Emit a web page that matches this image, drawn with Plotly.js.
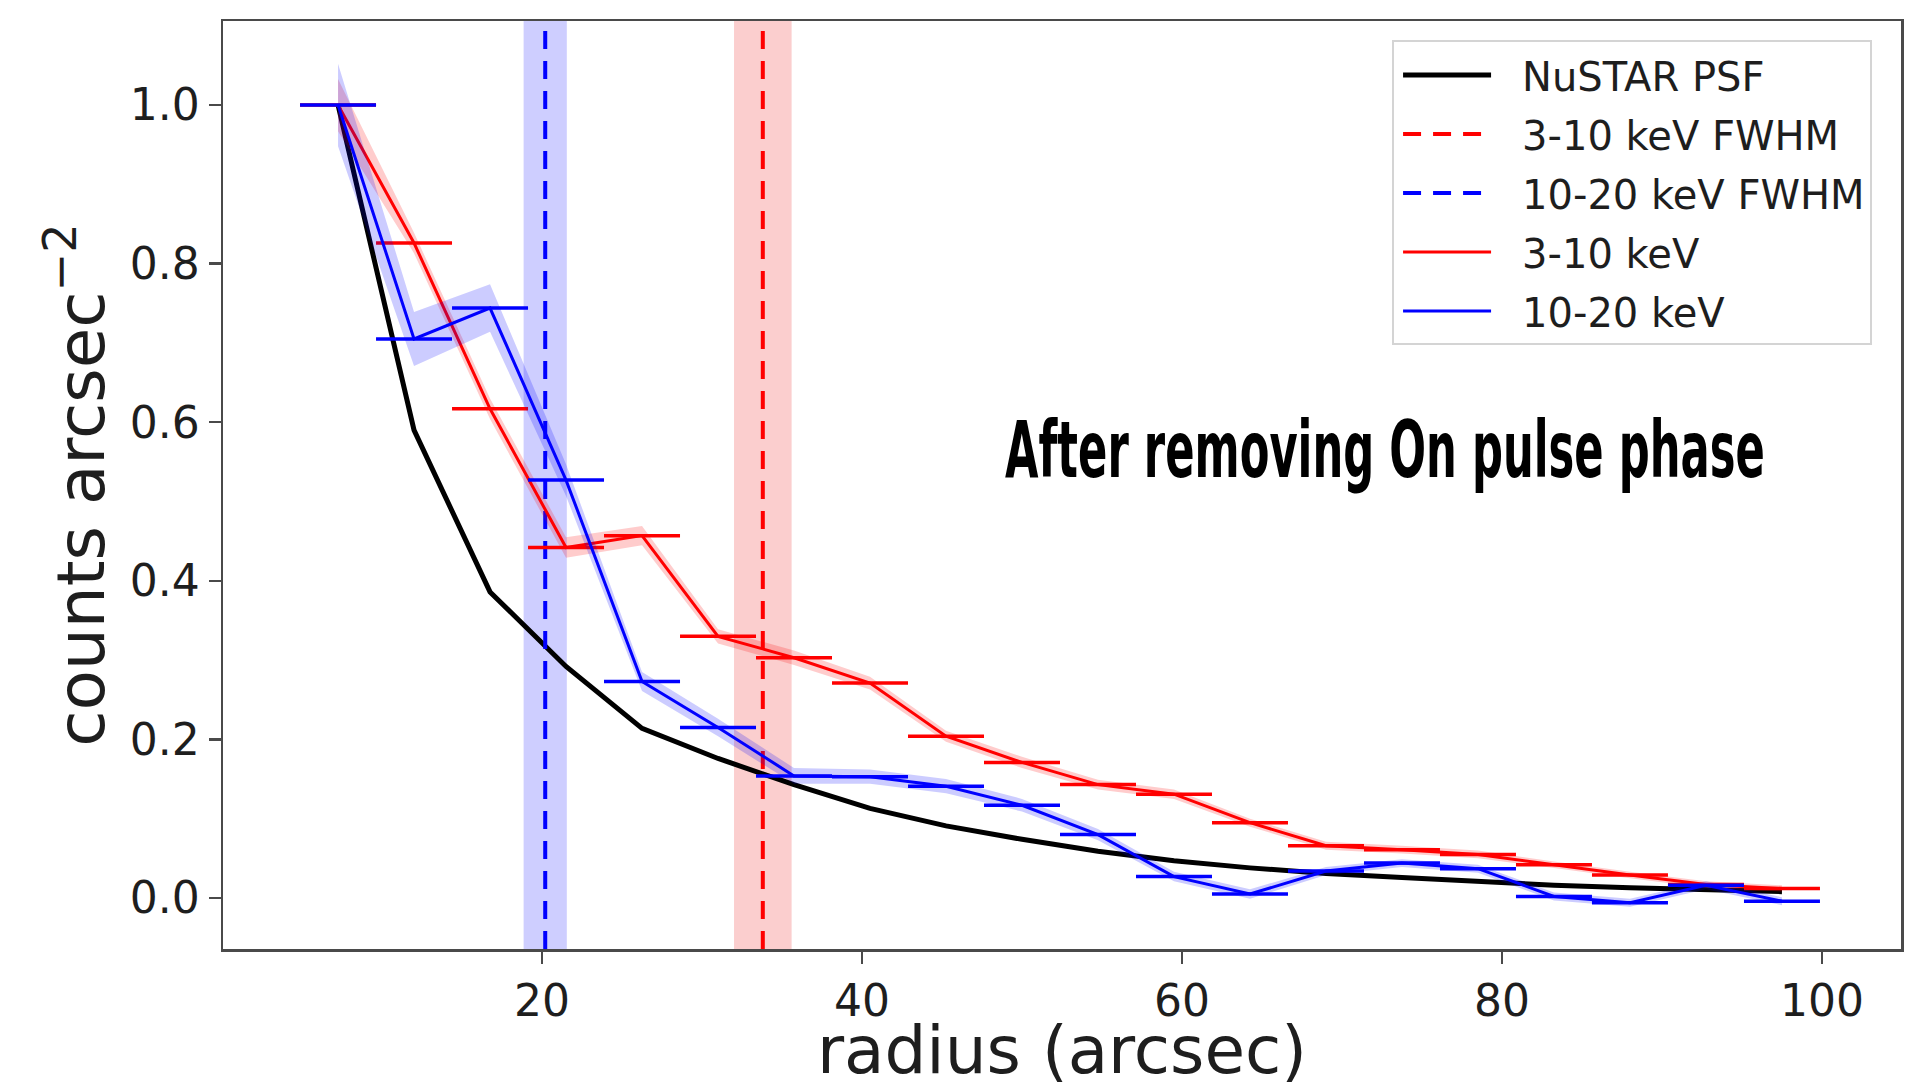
<!DOCTYPE html>
<html>
<head>
<meta charset="utf-8">
<script src="https://cdn.plot.ly/plotly-3.0.1.min.js"></script>
<style>
  html, body { margin: 0; padding: 0; background: #ffffff; }
  #chart { width: 1932px; height: 1083px; }
</style>
</head>
<body>
<div id="chart"></div>
<script>
// Radial surface-brightness profiles (bin centres in arcsec)
const radius = [7.25, 12.0, 16.75, 21.5, 26.25, 31.0, 35.75, 40.5, 45.25, 50.0,
                54.75, 59.5, 64.25, 69.0, 73.75, 78.5, 83.25, 88.0, 92.75, 97.5];
const radiusHalfWidth = [2.375, 2.375, 2.375, 2.375, 2.375, 2.375, 2.375, 2.375, 2.375, 2.375,
                         2.375, 2.375, 2.375, 2.375, 2.375, 2.375, 2.375, 2.375, 2.375, 2.375];

// NuSTAR point-spread function
const psf = [1.0, 0.590, 0.386, 0.292, 0.214, 0.176, 0.143, 0.113, 0.091, 0.074,
             0.059, 0.047, 0.038, 0.031, 0.026, 0.021, 0.016, 0.013, 0.010, 0.008];

// 3-10 keV profile and its uncertainty
const soft = [1.0, 0.826, 0.617, 0.442, 0.457, 0.330, 0.303, 0.271, 0.204, 0.171,
              0.143, 0.131, 0.095, 0.066, 0.061, 0.055, 0.042, 0.029, 0.017, 0.012];
const softErr = [0.033, 0.013, 0.013, 0.013, 0.012, 0.009, 0.009, 0.008, 0.007, 0.007,
                 0.006, 0.006, 0.005, 0.005, 0.005, 0.005, 0.004, 0.004, 0.004, 0.004];

// 10-20 keV profile and its uncertainty
const hard = [1.0, 0.705, 0.744, 0.527, 0.273, 0.215, 0.154, 0.153, 0.141, 0.117,
              0.080, 0.027, 0.005, 0.034, 0.044, 0.037, 0.002, -0.006, 0.016, -0.004];
const hardErr = [0.052, 0.034, 0.030, 0.020, 0.012, 0.011, 0.010, 0.009, 0.009, 0.008,
                 0.007, 0.006, 0.006, 0.005, 0.005, 0.005, 0.005, 0.005, 0.005, 0.005];

// FWHM of each band: centre and uncertainty
const softFwhm = 33.8, softFwhmErr = 1.8;
const hardFwhm = 20.2, hardFwhmErr = 1.35;

const xRange = [0.06, 104.94];
const yRange = [-0.0643, 1.106];
const xTicks = [20, 40, 60, 80, 100];
const yTicks = [0.0, 0.2, 0.4, 0.6, 0.8, 1.0];

const RED = '#ff0000', BLUE = '#0000ff';
const add = (a, b, s) => a.map((v, i) => v + s * b[i]);

function band(y, err, fill) {
  return [
    { x: radius, y: add(y, err, 1), mode: 'lines', line: { width: 0 },
      showlegend: false, hoverinfo: 'skip' },
    { x: radius, y: add(y, err, -1), mode: 'lines', line: { width: 0 },
      fill: 'tonexty', fillcolor: fill, showlegend: false, hoverinfo: 'skip' }
  ];
}

const traces = [
  { x: radius, y: psf, mode: 'lines', name: 'NuSTAR PSF', legendgroup: 'a',
    line: { color: '#000000', width: 5 } },
  { x: [softFwhm, softFwhm], y: yRange, mode: 'lines', name: '3-10 keV FWHM', legendgroup: 'b',
    line: { color: RED, width: 4, dash: '18px,12px' } },
  { x: [hardFwhm, hardFwhm], y: yRange, mode: 'lines', name: '10-20 keV FWHM', legendgroup: 'c',
    line: { color: BLUE, width: 4, dash: '18px,12px' } },
  ...band(soft, softErr, 'rgba(255,0,0,0.2)'),
  { x: radius, y: soft, mode: 'lines', name: '3-10 keV', legendgroup: 'd',
    line: { color: RED, width: 3 },
    error_x: { type: 'data', array: radiusHalfWidth, color: RED, thickness: 3.5, width: 0 } },
  ...band(hard, hardErr, 'rgba(0,0,255,0.2)'),
  { x: radius, y: hard, mode: 'lines', name: '10-20 keV', legendgroup: 'e',
    line: { color: BLUE, width: 3 },
    error_x: { type: 'data', array: radiusHalfWidth, color: BLUE, thickness: 3.5, width: 0 } }
];

const axisCommon = {
  showline: true, mirror: true, linecolor: '#4a4a4a', linewidth: 2.5,
  ticks: 'outside', ticklen: 12, tickwidth: 2.5, tickcolor: '#4a4a4a',
  showgrid: false, zeroline: false, automargin: false,
  tickfont: { family: 'DejaVu Sans', size: 44, color: '#1e1e1e' }
};

const layout = {
  width: 1932, height: 1083,
  margin: { l: 223, r: 31, t: 21, b: 134 },
  paper_bgcolor: '#ffffff', plot_bgcolor: '#ffffff',
  showlegend: true,
  xaxis: Object.assign({}, axisCommon, {
    range: xRange, tickvals: xTicks, ticktext: xTicks.map(String),
    title: { text: 'radius (arcsec)',
             font: { family: 'DejaVu Sans', size: 66, color: '#1e1e1e' } }
  }),
  yaxis: Object.assign({}, axisCommon, {
    range: yRange, tickvals: yTicks, ticktext: yTicks.map(v => v.toFixed(1)),
    title: { text: 'counts arcsec<sup>\u22122</sup>',
             font: { family: 'DejaVu Sans', size: 66, color: '#1e1e1e' } }
  }),
  legend: {
    x: 0.6967, y: 0.979, xanchor: 'left', yanchor: 'top',
    bgcolor: 'rgba(255,255,255,0.9)', bordercolor: '#d4d4d4', borderwidth: 2,
    font: { family: 'DejaVu Sans', size: 40, color: '#1e1e1e' },
    tracegroupgap: 4, itemwidth: 118
  },
  shapes: [
    { type: 'rect', xref: 'x', yref: 'paper', layer: 'below',
      x0: softFwhm - softFwhmErr, x1: softFwhm + softFwhmErr, y0: 0, y1: 1,
      fillcolor: 'rgba(240,60,60,0.25)', line: { width: 0 } },
    { type: 'rect', xref: 'x', yref: 'paper', layer: 'below',
      x0: hardFwhm - hardFwhmErr, x1: hardFwhm + hardFwhmErr, y0: 0, y1: 1,
      fillcolor: 'rgba(60,60,255,0.25)', line: { width: 0 } }
  ],
  annotations: [
    { text: 'After removing On pulse phase', xref: 'paper', yref: 'paper',
      x: 0.6925, y: 0.538, xanchor: 'center', yanchor: 'middle', showarrow: false,
      font: { family: 'Liberation Sans Narrow, DejaVu Sans Condensed, Roboto, sans-serif',
              size: 78, color: '#000000', weight: 'bold' } }
  ]
};

// shift an element by (dx, dy) on top of whatever transform it already has
function nudge(el, dx, dy) {
  if (!el) return;
  const prev = el.getAttribute('transform') || '';
  el.setAttribute('transform', `translate(${dx},${dy}) ${prev}`.trim());
}

Plotly.newPlot('chart', traces, layout, { staticPlot: true }).then(() => {
  // condense the caption horizontally to its set width
  const t = document.querySelector('.annotation-text');
  if (t) {
    const b = t.getBBox();
    const s = 760 / b.width;
    const cx = b.x + b.width / 2;
    t.setAttribute('transform', `translate(${cx},0) scale(${s},1) translate(${-cx},0)`);
  }
  // legend line samples: fixed length with a gap before the label
  document.querySelectorAll('.legend .legendlines path').forEach(p => {
    const m = /^M([-\d.]+),([-\d.]+)h([-\d.]+)/.exec(p.getAttribute('d') || '');
    if (m) {
      p.setAttribute('d', `M${parseFloat(m[1]) + 4},${m[2]}h88`);
    }
  });
  // axis titles sit a little further from the tick labels
  nudge(document.querySelector('.g-xtitle text'), 0, 6);
  nudge(document.querySelector('.g-ytitle text'), 24, 0);
});
</script>
</body>
</html>
